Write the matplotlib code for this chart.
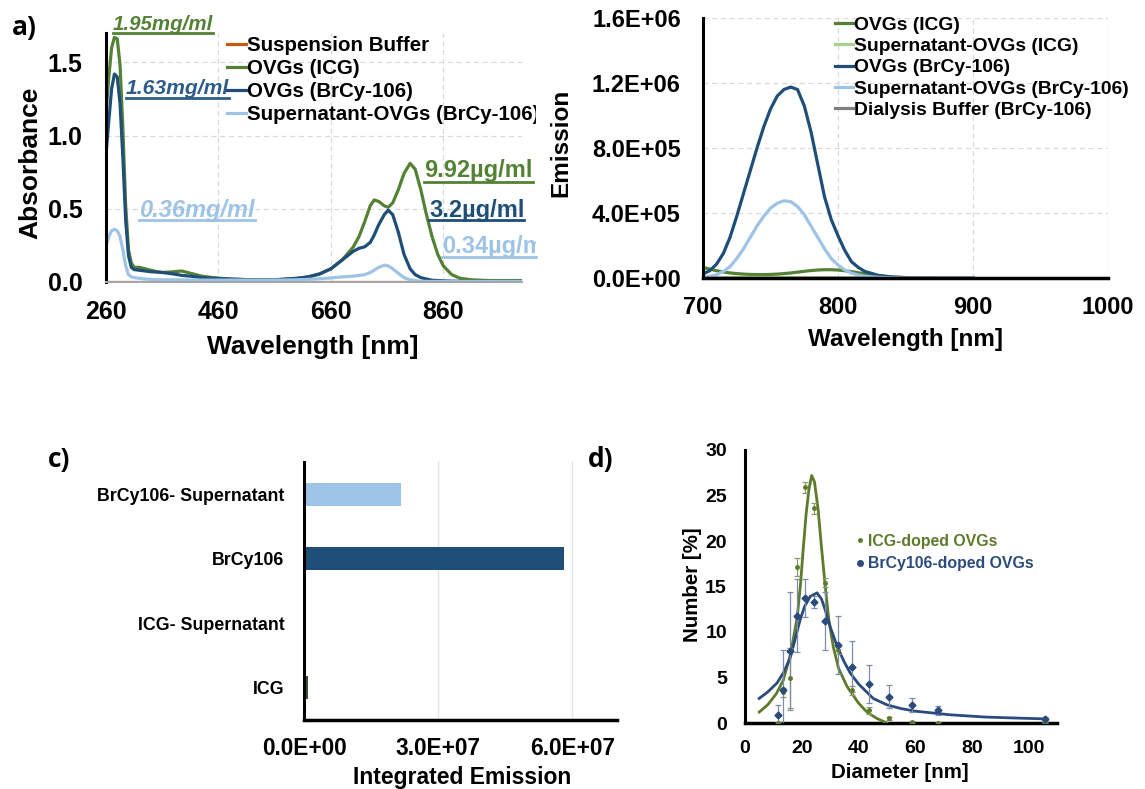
import matplotlib
matplotlib.use('Agg')
import matplotlib.pyplot as plt
from matplotlib.lines import Line2D
from matplotlib.transforms import Bbox, TransformedBbox
from matplotlib.ticker import FuncFormatter, FormatStrFormatter

W, H = 1145, 789
plt.rcParams['font.family'] = ['Liberation Sans', 'DejaVu Sans']
plt.rcParams['font.weight'] = 'bold'
plt.rcParams['axes.labelweight'] = 'bold'

# ---------------- data: panel a (absorbance) ----------------
wl_a = [260, 265, 270, 275, 280, 285, 290, 295, 300, 305, 310, 320, 330, 340, 350, 360,
        380, 395, 410, 430, 450, 480, 520, 560, 600, 620, 640, 660, 680, 700, 710, 720,
        730, 737, 745, 755, 762, 770, 780, 790, 801, 810, 820, 830, 840, 850, 860, 875,
        890, 910, 940, 970, 1000]
abs_buffer = [0.003] * 53
abs_icg = [1.16, 1.40, 1.60, 1.67, 1.66, 1.48, 1.05, 0.52, 0.22, 0.13, 0.10, 0.10, 0.09, 0.08,
           0.07, 0.065, 0.07, 0.075, 0.06, 0.04, 0.03, 0.02, 0.015, 0.015, 0.025, 0.035, 0.055,
           0.09, 0.15, 0.24, 0.31, 0.41, 0.52, 0.56, 0.55, 0.52, 0.51, 0.54, 0.63, 0.74, 0.81,
           0.77, 0.63, 0.46, 0.31, 0.19, 0.11, 0.05, 0.025, 0.015, 0.01, 0.01, 0.01]
abs_brcy = [0.87, 1.10, 1.32, 1.42, 1.40, 1.22, 0.85, 0.42, 0.18, 0.10, 0.085, 0.08, 0.075, 0.07,
            0.068, 0.065, 0.055, 0.045, 0.04, 0.03, 0.025, 0.02, 0.015, 0.015, 0.025, 0.035, 0.055,
            0.09, 0.15, 0.21, 0.23, 0.24, 0.27, 0.32, 0.39, 0.46, 0.49, 0.46, 0.34, 0.19, 0.09,
            0.05, 0.03, 0.02, 0.012, 0.01, 0.008, 0.006, 0.005, 0.005, 0.005, 0.005, 0.005]
abs_super = [0.25, 0.31, 0.35, 0.36, 0.35, 0.31, 0.22, 0.11, 0.05, 0.035, 0.03, 0.025, 0.02, 0.018,
             0.016, 0.015, 0.015, 0.015, 0.014, 0.013, 0.013, 0.013, 0.013, 0.013, 0.015, 0.018,
             0.022, 0.028, 0.035, 0.04, 0.045, 0.05, 0.065, 0.08, 0.10, 0.115, 0.11, 0.09, 0.06,
             0.03, 0.015, 0.01, 0.005, 0.004, 0.004, 0.004, 0.004, 0.004, 0.004, 0.004, 0.004,
             0.004, 0.004]
labels_a = ['Suspension Buffer', 'OVGs (ICG)', 'OVGs (BrCy-106)', 'Supernatant-OVGs (BrCy-106)']

# ---------------- data: panel b (emission) ----------------
wl_b = [700, 705, 710, 715, 720, 725, 730, 735, 740, 745, 750, 755, 760, 765, 770, 775, 780,
        785, 790, 795, 800, 805, 810, 815, 820, 830, 840, 850, 860, 880, 900]
em_icg = [0.065, 0.055, 0.045, 0.037, 0.031, 0.027, 0.024, 0.022, 0.021, 0.021, 0.022, 0.024,
          0.027, 0.031, 0.036, 0.041, 0.046, 0.049, 0.051, 0.051, 0.049, 0.045, 0.039, 0.032,
          0.025, 0.013, 0.006, 0.003, 0.001, 0.0, 0.0]
em_icg_super = [0.004, 0.004, 0.003, 0.003, 0.003, 0.003, 0.003, 0.003, 0.003, 0.003, 0.003,
                0.003, 0.003, 0.003, 0.003, 0.003, 0.003, 0.003, 0.003, 0.003, 0.003, 0.002,
                0.002, 0.002, 0.002, 0.001, 0.001, 0.0, 0.0, 0.0, 0.0]
em_brcy = [0.025, 0.045, 0.085, 0.15, 0.25, 0.38, 0.52, 0.66, 0.80, 0.93, 1.04, 1.12, 1.16,
           1.175, 1.16, 1.06, 0.90, 0.70, 0.50, 0.36, 0.26, 0.17, 0.10, 0.065, 0.04, 0.016,
           0.006, 0.002, 0.001, 0.0, 0.0]
em_brcy_super = [0.005, 0.01, 0.02, 0.04, 0.07, 0.12, 0.18, 0.25, 0.32, 0.38, 0.43, 0.46, 0.475,
                 0.47, 0.44, 0.39, 0.32, 0.25, 0.18, 0.12, 0.08, 0.05, 0.03, 0.018, 0.01, 0.004,
                 0.001, 0.0, 0.0, 0.0, 0.0]
em_dialysis = [0.0] * 31
labels_b = ['OVGs (ICG)', 'Supernatant-OVGs (ICG)', 'OVGs (BrCy-106)',
            'Supernatant-OVGs (BrCy-106)', 'Dialysis Buffer (BrCy-106)']

# ---------------- data: panel c (integrated emission) ----------------
c_categories = ['ICG', 'ICG- Supernatant', 'BrCy106', 'BrCy106- Supernatant']
c_values = [0.8e6, 0.05e6, 5.82e7, 2.16e7]

# ---------------- data: panel d (size distribution) ----------------
dls_x = [11.7, 13.54, 15.69, 18.17, 21.04, 24.36, 28.21, 32.67, 37.84, 43.82, 50.75, 58.77, 68.06, 105.7]
icg_y = [0.0, 3.4, 4.9, 17.1, 25.9, 23.6, 15.4, 8.0, 3.6, 1.4, 0.5, 0.1, 0.0, 0.1]
icg_err = [0.1, 0.5, 3.3, 1.0, 0.6, 0.6, 0.5, 0.4, 0.5, 0.4, 0.2, 0.1, 0.1, 0.1]
brcy_y = [0.9, 3.6, 7.9, 11.8, 13.7, 13.3, 11.2, 8.6, 6.2, 4.3, 2.9, 2.0, 1.4, 0.4]
brcy_err = [1.1, 4.4, 6.5, 4.0, 2.1, 0.7, 3.2, 3.2, 2.8, 2.1, 1.3, 0.8, 0.5, 0.3]
fit_icg_x = [5, 8, 11, 13.5, 16, 18.4, 19.5, 20.5, 21.5, 22.5, 23.5, 24.5, 25.8, 27, 28.3, 29.5,
             31.1, 33, 36, 40, 43, 46.5, 50]
fit_icg_y = [1.2, 2.0, 3.2, 4.7, 7.5, 11.6, 15.0, 19.0, 22.8, 25.6, 27.2, 26.5, 23.4, 19.2, 15.0,
             11.5, 8.4, 6.0, 4.0, 2.2, 1.2, 0.5, 0.0]
fit_brcy_x = [5, 8, 11.3, 13.5, 15.9, 17.5, 19.4, 21, 23, 25.4, 27, 28.3, 30, 32.5, 35, 37.1, 40,
              45.2, 50, 54.8, 60, 72.4, 85, 95, 106]
fit_brcy_y = [2.7, 3.4, 4.4, 5.5, 7.1, 9.0, 11.3, 12.8, 13.9, 14.3, 13.6, 12.4, 10.6, 8.4, 6.7,
              5.5, 4.3, 2.7, 2.0, 1.6, 1.3, 0.9, 0.65, 0.55, 0.45]
d_labels = ['ICG-doped OVGs', 'BrCy106-doped OVGs']

# ---------------- colours ----------------
ORANGE = '#C55A11'
GREEN = '#548235'
LGREEN = '#A9D18E'
DBLUE = '#1F4E79'
LBLUE = '#9DC3E6'
GRAY = '#7F7F7F'
D_GREEN = '#5E7B2C'
D_BLUE = '#2B4B7C'

fig = plt.figure(figsize=(W / 100, H / 100), dpi=100)


def fx(px):
    return px / W


def fy(py):
    return 1 - py / H


def ax_rect(l, t, r, b):
    return [l / W, 1 - b / H, (r - l) / W, (b - t) / H]


def excel_style(ax, bottom_color='black', bottom_lw=2.2):
    ax.spines['top'].set_visible(False)
    ax.spines['right'].set_visible(False)
    ax.spines['left'].set_color('black')
    ax.spines['left'].set_linewidth(2.2)
    ax.spines['bottom'].set_color(bottom_color)
    ax.spines['bottom'].set_linewidth(bottom_lw)
    ax.set_axisbelow(True)


def place_labels(ax, xpos, ypos=None):
    ax.xaxis.set_label_coords(*xpos)
    ax.xaxis.label.set_verticalalignment('center')
    if ypos is not None:
        ax.yaxis.set_label_coords(*ypos)
        ax.yaxis.label.set_verticalalignment('center')
        ax.yaxis.label.set_horizontalalignment('center')


# clip box for the cut-off right edge of panel a
clip_a = TransformedBbox(Bbox([[0, 0], [536 / W, 1]]), fig.transFigure)

# ================= panel a =================
axa = fig.add_axes(ax_rect(106, 33, 522, 282))
lw = 2.3
axa.plot(wl_a, abs_buffer, color=ORANGE, lw=lw, label=labels_a[0])
axa.plot(wl_a, abs_icg, color=GREEN, lw=lw, label=labels_a[1])
axa.plot(wl_a, abs_brcy, color=DBLUE, lw=lw, label=labels_a[2])
axa.plot(wl_a, abs_super, color=LBLUE, lw=lw, label=labels_a[3])
axa.set_xlim(260, 1000)
axa.set_ylim(0, 1.7)
axa.set_xticks([260, 460, 660, 860])
axa.set_yticks([0, 0.5, 1.0, 1.5])
axa.yaxis.set_major_formatter(FormatStrFormatter('%.1f'))
axa.grid(True, ls=(0, (4, 3)), color='#D9D9D9', lw=0.9)
excel_style(axa, bottom_color='#A6A6A6', bottom_lw=1.5)
axa.tick_params(axis='both', length=0, labelsize=18)
axa.tick_params(axis='y', pad=17)
axa.tick_params(axis='x', pad=13)
axa.set_xlabel('Wavelength [nm]', fontsize=19)
axa.set_ylabel('Absorbance', fontsize=19)
place_labels(axa, (0.498, -0.261), (-0.183, 0.478))
lega = axa.legend(loc='upper left', bbox_to_anchor=(fx(227), fy(36)),
                  bbox_transform=fig.transFigure,
                  frameon=False, fontsize=14.8, handlelength=0.9, handletextpad=0.05,
                  labelspacing=0.2, borderpad=0, borderaxespad=0)
for t in lega.get_texts():
    t.set_clip_on(True)
    t.set_clip_box(clip_a)

# annotations (text + underline), positions in figure pixels
ann = [
    ('1.95mg/ml', 113, 25, 33, 213, GREEN, 'italic', 14.8),
    ('1.63mg/ml', 126, 89, 98, 229, '#2E5C8A', 'italic', 15.2),
    ('0.36mg/ml', 139, 210, 220, 255, LBLUE, 'italic', 17),
    ('9.92\u00b5g/ml', 424, 170, 182, 533, GREEN, 'normal', 17),
    ('3.2\u00b5g/ml', 429, 210, 220, 524, DBLUE, 'normal', 17),
    ('0.34\u00b5g/ml', 442, 247, 257, 536, LBLUE, 'normal', 17),
]
for txt, x0, yc, yu, x1, col, sty, fs in ann:
    t = fig.text(fx(x0), fy(yc), txt, color=col, fontsize=fs, fontstyle=sty, fontweight='bold',
                 ha='left', va='center')
    t.set_clip_on(True)
    t.set_clip_box(clip_a)
    fig.add_artist(Line2D([fx(x0), fx(x1)], [fy(yu), fy(yu)], color=col, lw=2.0,
                          transform=fig.transFigure))

fig.text(fx(12), fy(27), 'a)', fontsize=19, fontweight='bold', ha='left', va='center',
         family=['Open Sans', 'DejaVu Sans'])

# ================= panel b =================
axb = fig.add_axes(ax_rect(703, 18, 1108, 278))
scale = 1e6
axb.plot(wl_b, [v * scale for v in em_icg], color=GREEN, lw=lw, label=labels_b[0])
axb.plot(wl_b, [v * scale for v in em_icg_super], color=LGREEN, lw=lw, label=labels_b[1])
axb.plot(wl_b, [v * scale for v in em_brcy], color=DBLUE, lw=lw, label=labels_b[2])
axb.plot(wl_b, [v * scale for v in em_brcy_super], color=LBLUE, lw=lw, label=labels_b[3])
axb.plot(wl_b, [v * scale for v in em_dialysis], color=GRAY, lw=lw, label=labels_b[4])
axb.set_xlim(700, 1000)
axb.set_ylim(0, 1.6e6)
axb.set_xticks([700, 800, 900, 1000])
axb.set_yticks([0, 4e5, 8e5, 1.2e6, 1.6e6])
axb.yaxis.set_major_formatter(FuncFormatter(lambda v, p: '%.1E' % v))
axb.grid(True, ls=(0, (4, 3)), color='#D9D9D9', lw=0.9)
excel_style(axb, bottom_color='black', bottom_lw=2.5)
axb.tick_params(axis='both', length=0, labelsize=17)
axb.tick_params(axis='y', pad=16)
axb.tick_params(axis='x', pad=13)
axb.set_xlabel('Wavelength [nm]', fontsize=17.5)
axb.set_ylabel('Emission', fontsize=17.5)
place_labels(axb, (0.499, -0.238), (-0.351, 0.519))
axb.legend(loc='upper left', bbox_to_anchor=(fx(835), fy(16)), bbox_transform=fig.transFigure,
           frameon=False, fontsize=13.9, handlelength=0.95, handletextpad=0.05,
           labelspacing=0.2, borderpad=0, borderaxespad=0)

# ================= panel c =================
axc = fig.add_axes(ax_rect(304, 462, 617, 720))
c_colors = ['#375623', LGREEN, DBLUE, LBLUE]
axc.barh(range(len(c_categories)), c_values, height=0.35, color=c_colors)
axc.set_yticks(range(len(c_categories)))
axc.set_yticklabels(c_categories, fontsize=12.8)
axc.set_ylim(-0.5, 3.5)
axc.set_xlim(0, 7e7)
axc.set_xticks([0, 3e7, 6e7])
axc.xaxis.set_major_formatter(FuncFormatter(lambda v, p: '%.1E' % v))
axc.grid(True, axis='x', color='#E3E3E3', lw=1.0)
excel_style(axc, bottom_color='black', bottom_lw=2.5)
axc.tick_params(axis='both', length=0)
axc.tick_params(axis='x', labelsize=16.3, pad=12)
axc.tick_params(axis='y', pad=14)
axc.set_xlabel('Integrated Emission', fontsize=16.5)
place_labels(axc, (0.505, -0.221))
fig.text(fx(48), fy(460), 'c)', fontsize=19, fontweight='bold', ha='left', va='center',
         family=['Open Sans', 'DejaVu Sans'])

# ================= panel d =================
axd = fig.add_axes(ax_rect(745, 450, 1057, 723))
axd.plot(fit_icg_x, fit_icg_y, color=D_GREEN, lw=2.0, zorder=3)
axd.plot(fit_brcy_x, fit_brcy_y, color=D_BLUE, lw=2.0, zorder=3)
axd.errorbar(dls_x, icg_y, yerr=icg_err, fmt='o', ms=2.5, color=D_GREEN, ecolor='#8A9A6A',
             elinewidth=0.9, capsize=2, capthick=0.9, zorder=4)
axd.errorbar(dls_x, brcy_y, yerr=brcy_err, fmt='D', ms=3.5, color=D_BLUE, ecolor='#7D8CA8',
             elinewidth=0.9, capsize=2, capthick=0.9, zorder=4)
axd.set_xlim(0, 110)
axd.set_ylim(0, 30)
axd.set_xticks([0, 20, 40, 60, 80, 100])
axd.set_yticks([0, 5, 10, 15, 20, 25, 30])
excel_style(axd, bottom_color='black', bottom_lw=2.5)
axd.tick_params(axis='both', length=0, labelsize=14)
axd.tick_params(axis='y', pad=13)
axd.tick_params(axis='x', pad=12)
axd.set_xlabel('Diameter [nm]', fontsize=14.8)
axd.set_ylabel('Number [%]', fontsize=14.8)
place_labels(axd, (0.497, -0.183), (-0.167, 0.505))
hd = [Line2D([], [], ls='none', marker='o', ms=2.5, color=D_GREEN),
      Line2D([], [], ls='none', marker='o', ms=4, color=D_BLUE)]
legd = axd.legend(hd, d_labels, loc='upper left', bbox_to_anchor=(fx(856), fy(534)),
                  bbox_transform=fig.transFigure, frameon=False, fontsize=11.4,
                  handlelength=0.5, handletextpad=0.25, labelspacing=0.45, borderpad=0,
                  borderaxespad=0)
for t, c in zip(legd.get_texts(), [D_GREEN, D_BLUE]):
    t.set_color(c)
fig.text(fx(588), fy(460), 'd)', fontsize=19, fontweight='bold', ha='left', va='center',
         family=['Open Sans', 'DejaVu Sans'])

fig.savefig('out.png', dpi=100)
